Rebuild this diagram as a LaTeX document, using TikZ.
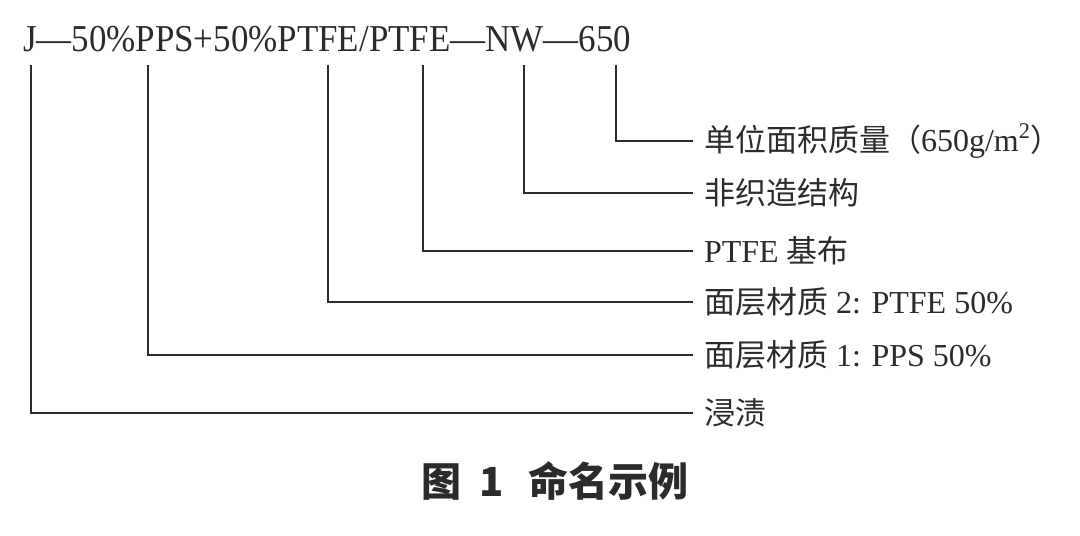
\documentclass[tikz,border=0pt]{standalone}
\usepackage{fontspec}
\setmainfont{Liberation Serif}
\newfontfamily\codefont[FakeStretch=0.92, Ligatures=TeX]{Liberation Serif}
\newfontfamily\cjk{Noto Sans CJK SC}
\newcommand{\zh}[1]{{\cjk\fontsize{15.5}{17}\selectfont #1}}
\usepackage{tikz}
\usetikzlibrary{positioning}
\definecolor{ink}{HTML}{2B2B2B}

\begin{document}
\begin{tikzpicture}[x=0.5pt, y=-0.5pt, line width=1pt, color=ink,
    lbl/.style={anchor=west, inner sep=5pt, font=\fontsize{16}{18}\selectfont},
    code/.style={anchor=base west, inner sep=0pt, font=\fontsize{19}{21}\selectfont\codefont},
    capt/.style={inner sep=0pt, font=\fontsize{20}{22}\selectfont\cjk\bfseries}]
  \useasboundingbox (0,0) rectangle (1080,535);
  \node[code] (name) at (22,52) {J---50\%PPS+50\%PTFE/PTFE---NW---650};
  \node[lbl] (wt) at (693,141) {\zh{单位面积质量（}650g/m\textsuperscript{2}\zh{）}};
  \node[lbl] (nw) at (693,193) {\zh{非织造结构}};
  \node[lbl] (base) at (693,251) {PTFE \zh{基布}};
  \node[lbl] (face2) at (693,302) {\zh{面层材质} 2: PTFE 50\%};
  \node[lbl] (face1) at (693,355) {\zh{面层材质} 1: PPS 50\%};
  \node[lbl] (imp) at (693,413) {\zh{浸渍}};
  \foreach \x/\n in {616/wt, 524/nw, 423/base, 328/face2, 148/face1, 31/imp} {
    \coordinate (t\n) at (\x,65);
    \draw (t\n) |- (\n.west);
  }
  \node[capt] (cap) at (555,481) {图\hspace{0.45em}1\hspace{0.6em}命名示例};
\end{tikzpicture}
\end{document}
